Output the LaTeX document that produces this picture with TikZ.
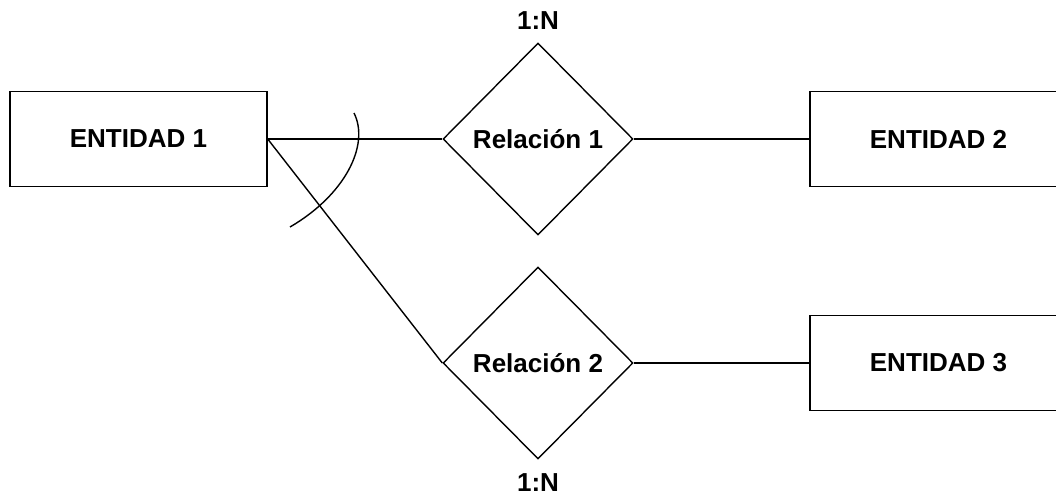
\documentclass[tikz,border=0pt]{standalone}
\usepackage{fontspec}
\setmainfont{Liberation Sans}
\usetikzlibrary{shapes.geometric}
\begin{document}
\begin{tikzpicture}[x=1pt,y=-1pt,
  every node/.style={font=\fontsize{26}{30}\selectfont\bfseries},
  entity/.style={draw,line width=1.4pt,rectangle,minimum width=257pt,minimum height=95pt,inner sep=0pt},
  rel/.style={draw,line width=1.4pt,diamond,minimum width=190pt,minimum height=192pt,inner sep=0pt},
  conn/.style={line width=1.4pt},
  card/.style={inner sep=0pt}]
\useasboundingbox (0,0) rectangle (1056,497);
\clip (0,0) rectangle (1056,497);
\fill[white] (0,0) rectangle (1056,497);
\node[entity] (e1) at (138.5,139) {ENTIDAD 1};
\node[entity] (e2) at (938.5,139) {ENTIDAD 2};
\node[entity] (e3) at (938.5,363) {ENTIDAD 3};
\node[rel] (r1) at (538,139) {Relación 1};
\node[rel] (r2) at (538,363) {Relación 2};
\node[card] (c1) at (538,21) {1:N};
\node[card] (c2) at (538,483) {1:N};
\draw[conn] (e1.east) -- (r1.west);
\draw[conn] (e1.east) -- (r2.west);
\draw[conn] (r1.east) -- (e2.west);
\draw[conn] (r2.east) -- (e3.west);
\draw[conn] (354,113) .. controls (370,145) and (345,195) .. (290,227);
\end{tikzpicture}
\end{document}
